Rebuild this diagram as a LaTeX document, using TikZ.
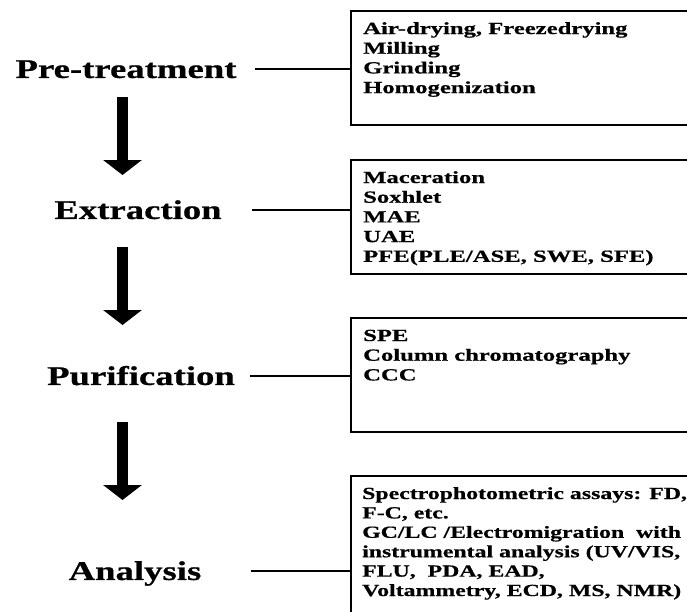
\documentclass[tikz,border=0pt]{standalone}
\usepackage{fontspec}
\setmainfont{Liberation Serif}
\newfontfamily\widebold[FakeStretch=1.45,FakeBold=0.6]{Liberation Serif Bold}
\newfontfamily\labelbold[FakeStretch=1.36,FakeBold=0.6]{Liberation Serif Bold}
\newfontfamily\narrowbold[FakeStretch=1.40,FakeBold=0.6]{Liberation Serif Bold}
\usetikzlibrary{arrows.meta}
\begin{document}
\begin{tikzpicture}[x=1pt,y=-1pt,
  lbl/.style={font=\labelbold\fontsize{27}{31}\selectfont, inner sep=0pt, text height=17.9pt, text depth=0pt, anchor=center},
  itemtxt/.style={font=\widebold\fontsize{17}{19.7}\selectfont, inner sep=0pt, anchor=base west},
  itemtxtn/.style={itemtxt, font=\narrowbold\fontsize{17}{19.4}\selectfont},
  panel/.style={draw, line width=2.4pt, anchor=north west, minimum width=400pt, inner sep=0pt},
  link/.style={line width=2pt},
  flow/.style={line width=11pt, -{Triangle[width=38pt,length=15pt]}}]
\useasboundingbox (0,0) rectangle (687,611);
\fill[white] (0,0) rectangle (687,611);
\clip (0,0) rectangle (687,611);

% panels
\node[panel, minimum height=114pt] (b1) at (350,10) {};
\node[panel, minimum height=114pt] (b2) at (350,159) {};
\node[panel, minimum height=114pt] (b3) at (350,317) {};
\node[panel, minimum height=200pt] (b4) at (350,475) {};

% panel texts
\node[itemtxt] (t1) at (363,34) {\begin{tabular}[t]{@{}l@{}}Air-drying, Freezedrying\\Milling\\Grinding\\Homogenization\end{tabular}};
\node[itemtxt] (t2) at (363,183) {\begin{tabular}[t]{@{}l@{}}Maceration\\Soxhlet\\MAE\\UAE\\PFE(PLE/ASE, SWE, SFE)\end{tabular}};
\node[itemtxt] (t3) at (363,341) {\begin{tabular}[t]{@{}l@{}}SPE\\Column chromatography\\CCC\end{tabular}};
\node[itemtxtn] (t4) at (362,499) {\begin{tabular}[t]{@{}l@{}}Spectrophotometric assays: FD,\\F-C, etc.\\GC/LC /Electromigration\ \ with\\instrumental analysis (UV/VIS,\\FLU,\ \ PDA, EAD,\\Voltammetry, ECD, MS, NMR)\end{tabular}};

% stage labels
\node[lbl] (p1) at (126,69) {Pre-treatment};
\node[lbl] (p2) at (138,210) {Extraction};
\node[lbl] (p3) at (141,376) {Purification};
\node[lbl] (p4) at (135,571) {Analysis};

% connectors
\draw[link] ([xshift=18pt]p1.east) -- (p1.east -| b1.west);
\draw[link] ([xshift=30pt]p2.east) -- (p2.east -| b2.west);
\draw[link] ([xshift=15pt]p3.east) -- (p3.east -| b3.west);
\draw[link] ([xshift=49pt]p4.east) -- (p4.east -| b4.west);

% flow arrows
\coordinate (a1s) at (122.5,97);  \coordinate (a1e) at (122.5,175);
\coordinate (a2s) at (122.5,247); \coordinate (a2e) at (122.5,325);
\coordinate (a3s) at (122.5,422); \coordinate (a3e) at (122.5,500);
\draw[flow] (a1s) -- (a1e);
\draw[flow] (a2s) -- (a2e);
\draw[flow] (a3s) -- (a3e);
\end{tikzpicture}
\end{document}
